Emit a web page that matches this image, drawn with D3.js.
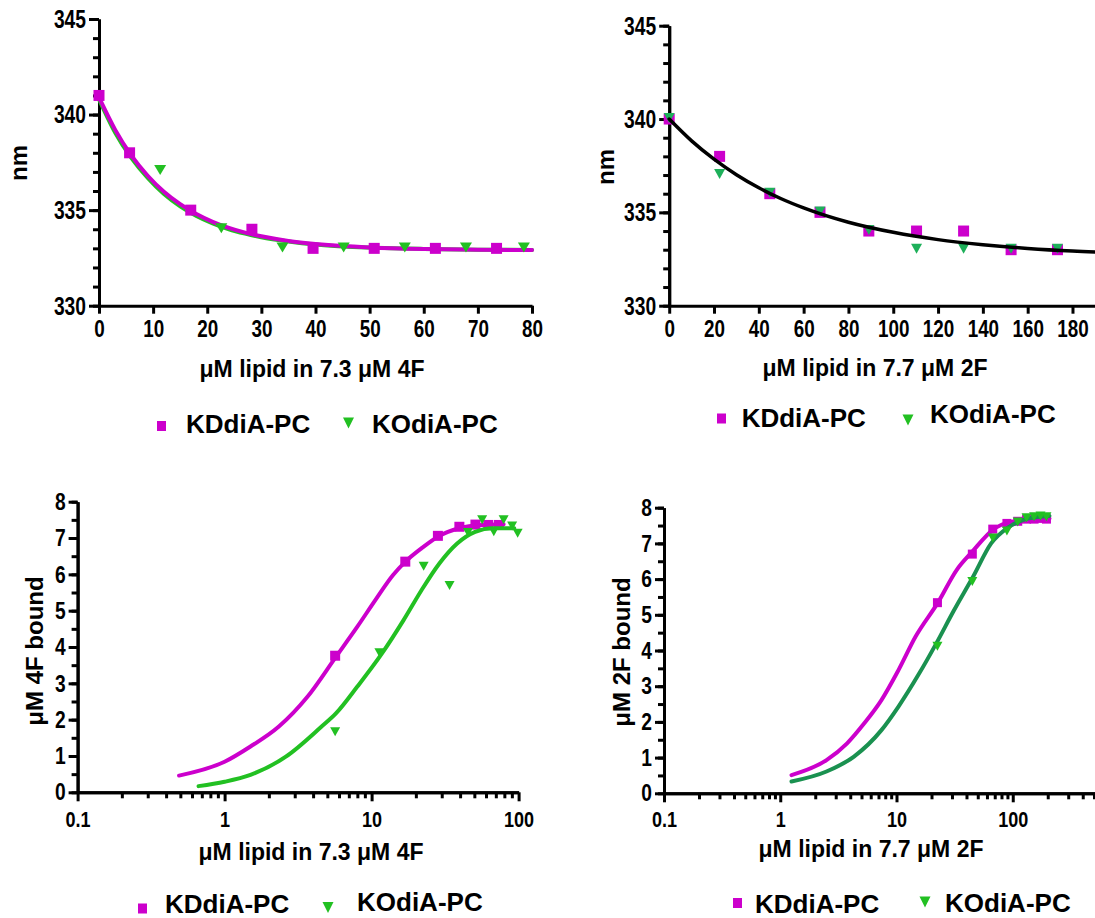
<!DOCTYPE html>
<html><head><meta charset="utf-8">
<script src="https://cdn.jsdelivr.net/npm/d3@7"></script>
<style>
body{margin:0;background:#fff}
svg{display:block}
text{font-family:"Liberation Sans",Arial,Helvetica,sans-serif;font-weight:bold;fill:#000}
</style></head><body>
<svg id="c" width="1095" height="918"></svg>
<script>
// ---------- DATA ----------
const seriesNames = ["KDdiA-PC", "KOdiA-PC"];

// Panel A (top-left): nm vs µM lipid, 4F
const aKDx = [0, 5.65, 16.95, 28.25, 39.55, 50.85, 62.15, 73.45];
const aKDy = [341, 338, 335, 334, 333, 333, 333, 333];
const aKOx = [11.3, 22.6, 33.9, 45.2, 56.5, 67.8, 78.5];
const aKOy = [337.1, 334.05, 333.05, 333.05, 333.05, 333.05, 333.05];
const aFitX = [0, 3, 6, 9, 12, 15, 18, 21, 24, 27, 30, 35, 40, 45, 50, 60, 70, 80];
const aFitKD = [340.9, 339.2, 337.85, 336.8, 335.96, 335.31, 334.8, 334.39, 334.07, 333.82, 333.63, 333.39, 333.23, 333.12, 333.05, 332.97, 332.93, 332.91];
const aFitKO = [340.8, 339.05, 337.72, 336.68, 335.84, 335.2, 334.7, 334.31, 334.0, 333.77, 333.58, 333.36, 333.2, 333.1, 333.04, 332.97, 332.93, 332.92];

// Panel B (top-right): nm vs µM lipid, 2F
const bKDx = [0, 22.5, 44.9, 67.3, 89.1, 110.4, 131.4, 152.6, 173.3];
const bKDy = [340, 338, 336, 335, 334, 334, 334, 333, 333];
const bKOx = [0, 22.5, 44.9, 67.3, 89.1, 110.4, 131.4, 152.6, 173.3];
const bKOy = [340.05, 337.05, 336.05, 335.05, 334.05, 333.05, 333.05, 333.05, 333.05];
const bFitX = [0, 10, 20, 30, 40, 50, 60, 80, 100, 120, 140, 160, 180, 200];
const bFitY = [340, 338.83, 337.85, 337.02, 336.32, 335.73, 335.24, 334.47, 333.93, 333.54, 333.27, 333.07, 332.93, 332.84];

// Panel C (bottom-left): µM 4F bound vs µM lipid (log)
const cKDx = [5.65, 16.95, 28.25, 39.55, 50.85, 62.15, 73.45];
const cKDy = [3.76, 6.35, 7.06, 7.31, 7.37, 7.36, 7.36];
const cKOx = [5.65, 11.3, 22.6, 33.9, 45.2, 56.5, 67.8, 79.1, 90.4, 98.5];
const cKOy = [1.67, 3.84, 6.22, 5.69, 7.15, 7.5, 7.17, 7.5, 7.33, 7.13];
const cFitKDx = [0.49, 1.0, 1.5, 2.34, 3.66, 5.72, 8.0, 10.6, 14.0, 17.0, 21.9, 28.6, 39.3, 56.5, 79.1];
const cFitKDy = [0.46, 0.84, 1.26, 1.81, 2.63, 3.73, 4.56, 5.29, 5.98, 6.35, 6.72, 7.05, 7.27, 7.36, 7.38];
const cFitKOx = [0.665, 1.0, 1.5, 2.61, 4.57, 5.72, 8.0, 11.8, 16.5, 21.9, 28.9, 38.2, 50.6, 66.9, 93.5];
const cFitKOy = [0.17, 0.29, 0.48, 0.98, 1.81, 2.17, 2.91, 3.83, 4.74, 5.57, 6.30, 6.85, 7.17, 7.27, 7.27];

// Panel D (bottom-right): µM 2F bound vs µM lipid (log)
const dKDx = [22.5, 44.9, 67.3, 89.1, 110.4, 131.4, 152.6, 173.3, 195];
const dKDy = [5.34, 6.70, 7.40, 7.56, 7.62, 7.68, 7.68, 7.70, 7.68];
const dKOx = [22.5, 44.9, 67.3, 89.1, 110.4, 131.4, 152.6, 173.3, 195];
const dKOy = [4.12, 5.93, 7.15, 7.35, 7.60, 7.72, 7.75, 7.77, 7.75];
const dFitKDx = [1.25, 2.5, 3.76, 5.28, 7.42, 10.4, 14.6, 22.7, 33.0, 44.9, 67.5, 98, 207];
const dFitKDy = [0.51, 0.93, 1.40, 1.96, 2.61, 3.45, 4.39, 5.34, 6.26, 6.77, 7.38, 7.61, 7.70];
const dFitKOx = [1.25, 2.5, 4.31, 7.42, 10.4, 15.7, 22.0, 30.9, 45.8, 65.2, 91.5, 137.6, 207];
const dFitKOy = [0.33, 0.61, 1.03, 1.77, 2.43, 3.36, 4.20, 5.10, 6.08, 7.00, 7.45, 7.70, 7.77];

const linTicksA = [0, 10, 20, 30, 40, 50, 60, 70, 80];
const linTicksB = [0, 20, 40, 60, 80, 100, 120, 140, 160, 180];
const nmTicks = [330, 335, 340, 345];
const boundTicks = [0, 1, 2, 3, 4, 5, 6, 7, 8];
const logTicks = [0.1, 1, 10, 100];
const logTickLabels = ["0.1", "1", "10", "100"];

// ---------- STYLE ----------
const MAG = "#cc00cc", GRN = "#22c022", GRN2 = "#1eb05a", DKG = "#1a9150";
const svg = d3.select("#c");
const zip = (xs, ys) => xs.map((x, i) => ({x, y: ys[i]}));

function narrow(sel, s) {
  sel.each(function() {
    const t = d3.select(this);
    const x = +t.attr("x") || 0;
    t.attr("x", x / s).attr("transform", `scale(${s},1)`);
  });
}
function styleAxis(g) {
  g.selectAll("path.domain").attr("stroke", "#000").attr("stroke-width", 3);
  g.selectAll(".tick line").attr("stroke", "#000").attr("stroke-width", 3);
}
function squares(g, data, x, y, color, s) {
  g.selectAll(null).data(data).join("rect")
    .attr("x", d => x(d.x) - s / 2).attr("y", d => y(d.y) - s / 2)
    .attr("width", s).attr("height", s).attr("fill", color);
}
function tris(g, data, x, y, color, w, h) {
  g.selectAll(null).data(data).join("path")
    .attr("d", d => {
      const cx = x(d.x), cy = y(d.y);
      return `M${cx - w / 2},${cy - h / 2}L${cx + w / 2},${cy - h / 2}L${cx},${cy + h / 2}Z`;
    }).attr("fill", color);
}
function curve(g, data, x, y, color, w) {
  g.append("path").datum(data)
    .attr("d", d3.line().x(d => x(d.x)).y(d => y(d.y)).curve(d3.curveMonotoneX))
    .attr("fill", "none").attr("stroke", color).attr("stroke-width", w)
    .attr("stroke-linecap", "round");
}
function legend(items) {
  const g = svg.append("g");
  items.forEach(it => {
    if (it.type === "sq") g.append("rect").attr("x", it.mx - 4.5).attr("y", it.my - 5).attr("width", 9).attr("height", 10).attr("fill", MAG);
    else g.append("path").attr("d", `M${it.mx - 5.5},${it.my - 5.5}L${it.mx + 5.5},${it.my - 5.5}L${it.mx},${it.my + 5.5}Z`).attr("fill", it.color || GRN);
    g.append("text").attr("x", it.tx).attr("y", it.ty).attr("font-size", 26).text(it.label);
  });
}
function yTitle(label, cx, cy, size) {
  svg.append("text").attr("transform", `translate(${cx},${cy}) rotate(-90)`)
    .attr("text-anchor", "middle").attr("dy", "0.35em").attr("font-size", size).text(label);
}
function xTitle(label, cx, y) {
  svg.append("text").attr("x", cx).attr("y", y).attr("text-anchor", "middle")
    .attr("font-size", 23).text(label);
}

// ---------- PANEL A ----------
{
  const x = d3.scaleLinear().domain([0, 80]).range([99, 532]);
  const y = d3.scaleLinear().domain([330, 345]).range([305.7, 19]);
  const g = svg.append("g");
  g.append("g").attr("transform", "translate(0,305.7)")
    .call(d3.axisBottom(x).tickValues(linTicksA).tickSize(8).tickSizeOuter(0).tickPadding(7))
    .call(styleAxis).call(a => a.selectAll("text").attr("font-size", 23).call(narrow, 0.82));
  g.append("g").attr("transform", "translate(99,0)")
    .call(d3.axisLeft(y).tickValues(d3.range(330, 346, 1)).tickSize(6).tickSizeOuter(0).tickFormat(""))
    .call(styleAxis);
  g.append("g").attr("transform", "translate(99,0)")
    .call(d3.axisLeft(y).tickValues(nmTicks).tickSize(10).tickSizeOuter(0).tickPadding(3))
    .call(styleAxis).call(a => a.selectAll("text").attr("font-size", 26).call(narrow, 0.74));
  curve(g, zip(aFitX, aFitKO), x, y, GRN, 4);
  curve(g, zip(aFitX, aFitKD), x, y, MAG, 4);
  tris(g, zip(aKOx, aKOy), x, y, GRN, 12, 10);
  squares(g, zip(aKDx, aKDy), x, y, MAG, 11);
  yTitle("nm", 19, 163, 24);
  xTitle("\u03bcM lipid in 7.3  \u03bcM 4F", 312, 377);
  legend([
    {type: "sq", mx: 161.5, my: 426, tx: 186, ty: 433, label: seriesNames[0]},
    {type: "tri", mx: 348.5, my: 423, tx: 372, ty: 433, label: seriesNames[1]}
  ]);
}

// ---------- PANEL B ----------
{
  const x = d3.scaleLinear().domain([0, 200]).range([669.2, 1117.3]);
  const y = d3.scaleLinear().domain([330, 345]).range([305.7, 25.7]);
  const g = svg.append("g");
  g.append("g").attr("transform", "translate(0,305.7)")
    .call(d3.axisBottom(x).tickValues(linTicksB).tickSize(8).tickSizeOuter(0).tickPadding(7))
    .call(styleAxis).call(a => a.selectAll("text").attr("font-size", 23).call(narrow, 0.82));
  g.append("g").attr("transform", "translate(669.2,0)")
    .call(d3.axisLeft(y).tickValues(d3.range(330, 346, 1)).tickSize(6).tickSizeOuter(0).tickFormat(""))
    .call(styleAxis);
  g.append("g").attr("transform", "translate(669.2,0)")
    .call(d3.axisLeft(y).tickValues(nmTicks).tickSize(10).tickSizeOuter(0).tickPadding(3))
    .call(styleAxis).call(a => a.selectAll("text").attr("font-size", 26).call(narrow, 0.74));
  squares(g, zip(bKDx, bKDy), x, y, MAG, 11);
  tris(g, zip(bKOx, bKOy), x, y, GRN2, 11, 10);
  curve(g, zip(bFitX, bFitY), x, y, "#000", 3.5);
  yTitle("nm", 605.5, 167, 24);
  xTitle("\u03bcM lipid in 7.7  \u03bcM 2F", 875, 376);
  legend([
    {type: "sq", mx: 721.5, my: 418.5, tx: 741.7, ty: 427, label: seriesNames[0]},
    {type: "tri", mx: 908, my: 420, tx: 930, ty: 423, label: seriesNames[1]}
  ]);
}

// ---------- log axis helper ----------
function logMinor(dmin, dmax) {
  const out = [];
  for (let e = Math.log10(dmin); e < Math.log10(dmax); e++)
    for (let k = 2; k <= 9; k++) out.push(k * Math.pow(10, e));
  return out;
}

// ---------- PANEL C ----------
{
  const x = d3.scaleLog().domain([0.1, 100]).range([77.6, 518.6]);
  const y = d3.scaleLinear().domain([0, 8]).range([792.3, 501.7]);
  const g = svg.append("g");
  g.append("g").attr("transform", "translate(0,792.3)")
    .call(d3.axisBottom(x).tickValues(logMinor(0.1, 100)).tickSize(6).tickSizeOuter(0).tickFormat(""))
    .call(styleAxis);
  g.append("g").attr("transform", "translate(0,792.3)")
    .call(d3.axisBottom(x).tickValues(logTicks).tickSize(9).tickSizeOuter(0).tickPadding(10)
      .tickFormat((d, i) => logTickLabels[i]))
    .call(styleAxis).call(a => a.selectAll("text").attr("font-size", 22).call(narrow, 0.82));
  g.append("g").attr("transform", "translate(77.6,0)")
    .call(d3.axisLeft(y).tickValues(d3.range(0, 8.01, 0.5)).tickSize(6).tickSizeOuter(0).tickFormat(""))
    .call(styleAxis);
  g.append("g").attr("transform", "translate(77.6,0)")
    .call(d3.axisLeft(y).tickValues(boundTicks).tickSize(9).tickSizeOuter(0).tickPadding(3))
    .call(styleAxis).call(a => a.selectAll("text").attr("font-size", 24).call(narrow, 0.8));
  squares(g, zip(cKDx, cKDy), x, y, MAG, 10);
  curve(g, zip(cFitKDx, cFitKDy), x, y, MAG, 4);
  tris(g, zip(cKOx, cKOy), x, y, GRN, 10, 9);
  curve(g, zip(cFitKOx, cFitKOy), x, y, GRN, 4);
  yTitle("\u03bcM 4F bound", 35, 651, 24);
  xTitle("\u03bcM lipid in 7.3  \u03bcM 4F", 311, 860);
  legend([
    {type: "sq", mx: 142.5, my: 908.5, tx: 165, ty: 913, label: seriesNames[0]},
    {type: "tri", mx: 328, my: 907.5, tx: 357, ty: 911, label: seriesNames[1]}
  ]);
}

// ---------- PANEL D ----------
{
  const x = d3.scaleLog().domain([0.1, 1000]).range([664, 1129]);
  const y = d3.scaleLinear().domain([0, 8]).range([793.3, 507.7]);
  const g = svg.append("g");
  g.append("g").attr("transform", "translate(0,793.3)")
    .call(d3.axisBottom(x).tickValues(logMinor(0.1, 1000)).tickSize(6).tickSizeOuter(0).tickFormat(""))
    .call(styleAxis);
  g.append("g").attr("transform", "translate(0,793.3)")
    .call(d3.axisBottom(x).tickValues(logTicks).tickSize(9).tickSizeOuter(0).tickPadding(9)
      .tickFormat((d, i) => logTickLabels[i]))
    .call(styleAxis).call(a => a.selectAll("text").attr("font-size", 22).call(narrow, 0.82));
  g.append("g").attr("transform", "translate(664,0)")
    .call(d3.axisLeft(y).tickValues(d3.range(0, 8.01, 0.5)).tickSize(6).tickSizeOuter(0).tickFormat(""))
    .call(styleAxis);
  g.append("g").attr("transform", "translate(664,0)")
    .call(d3.axisLeft(y).tickValues(boundTicks).tickSize(9).tickSizeOuter(0).tickPadding(3))
    .call(styleAxis).call(a => a.selectAll("text").attr("font-size", 24).call(narrow, 0.8));
  curve(g, zip(dFitKDx, dFitKDy), x, y, MAG, 4);
  squares(g, zip(dKDx, dKDy), x, y, MAG, 9);
  curve(g, zip(dFitKOx, dFitKOy), x, y, DKG, 4);
  tris(g, zip(dKOx, dKOy), x, y, GRN, 10, 9);
  yTitle("\u03bcM 2F bound", 622, 652, 24);
  xTitle("\u03bcM lipid in 7.7  \u03bcM 2F", 871, 857);
  legend([
    {type: "sq", mx: 737.5, my: 903, tx: 755, ty: 913, label: seriesNames[0]},
    {type: "tri", mx: 925, my: 902, tx: 945, ty: 912, label: seriesNames[1]}
  ]);
}
</script>
</body></html>
